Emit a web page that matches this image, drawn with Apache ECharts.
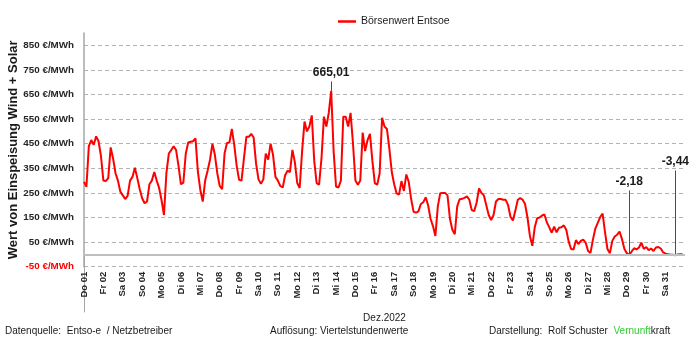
<!DOCTYPE html>
<html>
<head>
<meta charset="utf-8">
<script src="https://cdn.jsdelivr.net/npm/echarts@6/dist/echarts.min.js"></script>
<style>
  html, body { margin:0; padding:0; background:#fff; }
  #c { width:697px; height:339px; }
</style>
</head>
<body>
<div id="c"></div>
<script>
// Börsenwert Entsoe, Dezember 2022, €/MWh, one value every 3 hours (00,03,...,21 h)
const dec01to07 = [
  295, 275, 440, 465, 445, 480, 460, 400,
  300, 298, 310, 435, 390, 330, 300, 255,
  240, 225, 238, 300, 315, 352, 310, 265,
  228, 208, 215, 285, 300, 335, 300, 270,
  220, 160, 330, 410, 424, 440, 424, 360,
  285, 292, 410, 455, 458, 460, 472, 335,
  262, 215, 300, 340, 385, 450, 405, 330
];
const dec08to14 = [
  278, 265, 410, 453, 455, 510, 445, 360,
  303, 300, 390, 478, 478, 490, 475, 370,
  305, 287, 305, 410, 385, 450, 405, 315,
  300, 278, 272, 322, 340, 335, 425, 375,
  290, 270, 420, 540, 500, 520, 565, 380,
  290, 283, 390, 560, 520, 575, 665.01, 420,
  276, 272, 300, 560, 560, 520, 575, 450
];
const dec15to21 = [
  300, 283, 300, 495, 420, 465, 490, 380,
  290, 283, 330, 555, 520, 510, 430, 335,
  285, 248, 243, 298, 258, 325, 295, 225,
  173, 170, 175, 205, 212, 232, 200, 145,
  115, 75, 195, 249, 250, 250, 240, 145,
  100, 82, 195, 224, 226, 230, 236, 222,
  180, 176, 210, 268, 250, 240, 200, 160
];
const dec22to28 = [
  140, 160, 215, 225, 225, 222, 222, 200,
  152, 138, 178, 222, 229, 222, 205, 150,
  75, 35, 110, 147, 150, 158, 162, 130,
  110, 88, 113, 90, 108, 110, 118, 100,
  52, 22, 20, 58, 42, 55, 60, 48,
  14, 6, 60, 105, 128, 152, 166, 90,
  22, 5, 55, 73, 80, 93, 62, 22
];
const dec29to31 = [
  5, -2.18, 12, 25, 20, 28, 48, 22,
  30, 17, 24, 14, 28, 30, 24, 8,
  3, 0.5, -0.5, -1, -3.44, -0.5, 0.5, 1
];
const dayLabels = ['Do 01','Fr 02','Sa 03','So 04','Mo 05','Di 06','Mi 07','Do 08','Fr 09','Sa 10',
  'So 11','Mo 12','Di 13','Mi 14','Do 15','Fr 16','Sa 17','So 18','Mo 19','Di 20','Mi 21','Do 22',
  'Fr 23','Sa 24','So 25','Mo 26','Di 27','Mi 28','Do 29','Fr 30','Sa 31'];
const annotatedValues = [665.01, -2.18, -3.44];
const annotationTexts = ['665,01', '-2,18', '-3,44'];
const seriesName = 'Börsenwert Entsoe';
const monthLabel = 'Dez.2022';
const yTicksMin = -50, yTicksMax = 900, yInterval = 100;

const values = [].concat(dec01to07, dec08to14, dec15to21, dec22to28, dec29to31);
const stepsPerDay = 8;
const seriesData = values.map((v, i) => [i / stepsPerDay, v]);

// annotation leaders: line from point up to value, label above
const leaderTops = [703, 260, 341];
const markLineData = annotatedValues.map((v, k) => {
  const idx = values.indexOf(v);
  const t = idx / stepsPerDay;
  return [
    { coord: [t, v], symbol: 'none' },
    { coord: [t, leaderTops[k]], symbol: 'none',
      label: { show: true, position: 'end', formatter: annotationTexts[k], distance: 3,
        color: '#1a1a1a', fontWeight: 'bold', fontSize: 12, fontFamily: 'Liberation Sans' } }
  ];
});

const FONT = 'Liberation Sans';
const chart = echarts.init(document.getElementById('c'), null, { renderer: 'canvas' });
chart.setOption({
  animation: false,
  backgroundColor: '#fff',
  textStyle: { fontFamily: FONT },
  legend: {
    top: 11, left: 333, itemWidth: 18, itemHeight: 2.5, itemGap: 4, icon: 'rect',
    textStyle: { fontSize: 10.5, color: '#1a1a1a', fontFamily: FONT, padding: [0, 0, 0, 0] },
    data: [{ name: seriesName, icon: 'rect', itemStyle: { color: '#ff0000' } }]
  },
  grid: { left: 84, right: 12, top: 33, bottom: 72.3, containLabel: false, outerBoundsMode: 'none' },
  xAxis: {
    type: 'value', min: 0, max: 31, interval: 1,
    name: monthLabel, nameLocation: 'middle', nameGap: 47,
    nameTextStyle: { fontSize: 10, color: '#1a1a1a', fontFamily: FONT },
    axisLine: { show: false },
    splitLine: { show: false },
    axisTick: { show: true, customValues: [0, 31], length: 58, lineStyle: { color: '#a6a6a6', width: 1 } },
    axisLabel: {
      rotate: 90, margin: 5, fontSize: 9.5, color: '#262626', fontWeight: 'bold', fontFamily: FONT,
      showMaxLabel: false,
      formatter: (v) => dayLabels[Math.round(v)] || ''
    }
  },
  yAxis: {
    type: 'value', min: yTicksMin, max: yTicksMax, interval: yInterval,
    name: 'Wert von Einspeisung Wind + Solar', nameLocation: 'middle', nameRotate: 90, nameGap: 64,
    nameMoveOverlap: false,
    nameTextStyle: { fontSize: 13, fontWeight: 'bold', color: '#1a1a1a', fontFamily: FONT },
    axisLine: { show: true, lineStyle: { color: '#a6a6a6', width: 1.5 } },
    axisTick: { show: false },
    splitLine: { show: true, showMaxLine: false, lineStyle: { color: '#b3b3b3', type: [4, 3], width: 1 } },
    axisLabel: {
      margin: 10, fontFamily: FONT, showMaxLabel: false,
      formatter: (v) => v < 0 ? '{neg|' + v + ' €/MWh}' : '{pos|' + v + ' €/MWh}',
      rich: {
        neg: { color: '#ff0000', fontSize: 9.8, fontWeight: 'bold', fontFamily: FONT },
        pos: { color: '#262626', fontSize: 9.8, fontWeight: 'bold', fontFamily: FONT }
      }
    }
  },
  series: [{
    name: seriesName, type: 'line', data: seriesData, symbol: 'none', showSymbol: false,
    lineStyle: { color: '#ff0000', width: 2 }, itemStyle: { color: '#ff0000' },
    z: 3,
    markLine: {
      silent: true, symbol: 'none', animation: false,
      lineStyle: { color: '#4d4d4d', width: 1, type: 'solid' },
      label: { show: false },
      data: markLineData
    }
  }, {
    type: 'line', data: [], silent: true,
    markLine: {
      silent: true, symbol: 'none', animation: false,
      lineStyle: { color: '#bfbfbf', width: 2, type: 'solid' },
      label: { show: false },
      data: [{ yAxis: 0 }]
    }
  }],
  graphic: [
    { type: 'text', left: 5, top: 326, style: { text: 'Datenquelle:  Entso-e  / Netzbetreiber', fontSize: 10, fill: '#1a1a1a', fontFamily: FONT } },
    { type: 'text', left: 270, top: 326, style: { text: 'Auflösung: Viertelstundenwerte', fontSize: 10, fill: '#1a1a1a', fontFamily: FONT } },
    { type: 'text', left: 489, top: 326, style: {
        text: '{a|Darstellung:  Rolf Schuster  }{g|Vernunft}{a|kraft}',
        rich: { a: { fontSize: 10, fill: '#1a1a1a', color: '#1a1a1a', fontFamily: FONT },
                g: { fontSize: 10, fill: '#33cc33', color: '#33cc33', fontFamily: FONT } } } }
  ]
});
</script>
</body>
</html>
